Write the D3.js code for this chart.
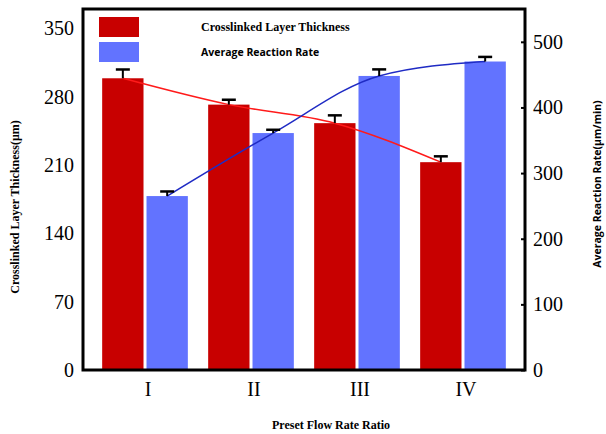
<!DOCTYPE html>
<html>
<head>
<meta charset="utf-8">
<script src="https://cdn.jsdelivr.net/npm/d3@7/dist/d3.min.js"></script>
<style>
  html, body { margin: 0; padding: 0; background: #fff; }
  svg { display: block; }
</style>
</head>
<body>
<svg id="chart" width="606" height="434"></svg>
<script>
// Preset flow-rate groups
const categories = ["I", "II", "III", "IV"];
// Crosslinked layer thickness (µm) and its error
const thickness = [299, 272, 253, 213];
const thicknessErr = [9, 5, 8, 6];
// Average reaction rate (µm/min) and its error
const rate = [265, 361, 448, 470];
const rateErr = [7, 5, 10, 7];
// Axis tick values
const leftTicks = [0, 70, 140, 210, 280, 350];
const rightTicks = [0, 100, 200, 300, 400, 500];

const RED = "#c80000", BLUE = "#6273ff";
const RED_LINE = "#ff1a1a", BLUE_LINE = "#1f2bc4";

const svg = d3.select("#chart");
const plot = { left: 83, right: 525, top: 9, bottom: 370 };

const x = d3.scaleBand().domain(categories)
  .range([plot.left, plot.right]).paddingInner(0).paddingOuter(0.085);
const yL = d3.scaleLinear().domain([0, 370]).range([plot.bottom, plot.top]);
const yR = d3.scaleLinear().domain([0, 550]).range([plot.bottom, plot.top]);

const barW = x.step() * 0.39;
const gap = 1.5;
const center = c => x(c) + x.bandwidth() / 2;
const redX = c => center(c) - gap - barW;
const blueX = c => center(c) + gap;

const rows = categories.map((c, i) => ({
  c, t: thickness[i], te: thicknessErr[i], r: rate[i], re: rateErr[i]
}));

// Bars
svg.append("g").selectAll("rect").data(rows).join("rect")
  .attr("x", d => redX(d.c)).attr("width", barW)
  .attr("y", d => yL(d.t)).attr("height", d => yL(0) - yL(d.t))
  .attr("fill", RED);
svg.append("g").selectAll("rect").data(rows).join("rect")
  .attr("x", d => blueX(d.c)).attr("width", barW)
  .attr("y", d => yR(d.r)).attr("height", d => yR(0) - yR(d.r))
  .attr("fill", BLUE);

// Trend curves through bar tops
const redLine = d3.line().curve(d3.curveMonotoneX)
  .x(d => redX(d.c) + barW / 2).y(d => yL(d.t));
const blueLine = d3.line().curve(d3.curveMonotoneX)
  .x(d => blueX(d.c) + barW / 2).y(d => yR(d.r));
svg.append("path").attr("d", redLine(rows))
  .attr("fill", "none").attr("stroke", RED_LINE).attr("stroke-width", 1.5);
svg.append("path").attr("d", blueLine(rows))
  .attr("fill", "none").attr("stroke", BLUE_LINE).attr("stroke-width", 1.5);

// Error bars
function errorBars(cx, yTop, yCap) {
  const g = svg.append("g").attr("stroke", "#000").attr("stroke-width", 2);
  g.selectAll("line.v").data(rows).join("line").attr("class", "v")
    .attr("x1", cx).attr("x2", cx).attr("y1", yTop).attr("y2", yCap);
  g.selectAll("line.h").data(rows).join("line").attr("class", "h")
    .attr("x1", d => cx(d) - 7).attr("x2", d => cx(d) + 7)
    .attr("y1", yCap).attr("y2", yCap).attr("stroke-width", 2.5);
}
errorBars(d => redX(d.c) + barW / 2, d => yL(d.t), d => yL(d.t + d.te));
errorBars(d => blueX(d.c) + barW / 2, d => yR(d.r), d => yR(d.r + d.re));

// Axes
const serif = "'Liberation Serif', 'Times New Roman', serif";
const sans = "'Open Sans', 'Liberation Sans', sans-serif";

const axL = svg.append("g").attr("transform", `translate(${plot.left},0)`)
  .call(d3.axisLeft(yL).tickValues(leftTicks).tickSize(0).tickPadding(9));
const axR = svg.append("g").attr("transform", `translate(${plot.right},0)`)
  .call(d3.axisRight(yR).tickValues(rightTicks).tickSizeInner(-4).tickSizeOuter(0).tickPadding(8));
const axB = svg.append("g").attr("transform", `translate(0,${plot.bottom})`)
  .call(d3.axisBottom(x).tickSize(0).tickPadding(12));

[axL, axR, axB].forEach(a => {
  a.select(".domain").remove();
  a.selectAll("text").attr("font-family", serif).attr("font-size", 20).attr("fill", "#000");
  a.selectAll("line").attr("stroke", "#000").attr("stroke-width", 2);
});
axB.selectAll("text").attr("dx", 3);

// Frame
svg.append("rect")
  .attr("x", plot.left).attr("y", plot.top)
  .attr("width", plot.right - plot.left).attr("height", plot.bottom - plot.top)
  .attr("fill", "none").attr("stroke", "#000").attr("stroke-width", 3);

// Axis titles
svg.append("text").attr("transform", "translate(19,207) rotate(-90)")
  .attr("text-anchor", "middle").attr("font-family", serif)
  .attr("font-weight", "bold").attr("font-size", 12)
  .text("Crosslinked Layer Thickness(μm)");
svg.append("text").attr("transform", "translate(601,184) rotate(-90)")
  .attr("text-anchor", "middle").attr("font-family", sans)
  .attr("font-weight", "bold").attr("font-size", 10.5)
  .text("Average Reaction Rate(μm/min)");
svg.append("text").attr("x", 331).attr("y", 429)
  .attr("text-anchor", "middle").attr("font-family", serif)
  .attr("font-weight", "bold").attr("font-size", 12)
  .text("Preset Flow Rate Ratio");

// Legend
const legend = [
  { label: "Crosslinked Layer Thickness", color: RED, font: serif, size: 12, y: 17 },
  { label: "Average Reaction Rate", color: BLUE, font: sans, size: 10.5, y: 42 }
];
const lg = svg.append("g").selectAll("g").data(legend).join("g");
lg.append("rect").attr("x", 99).attr("y", d => d.y).attr("width", 40).attr("height", 20)
  .attr("fill", d => d.color);
lg.append("text").attr("x", 201).attr("y", d => d.y + 14)
  .attr("font-family", d => d.font).attr("font-size", d => d.size)
  .attr("font-weight", "bold").attr("fill", "#000")
  .text(d => d.label);
</script>
</body>
</html>
